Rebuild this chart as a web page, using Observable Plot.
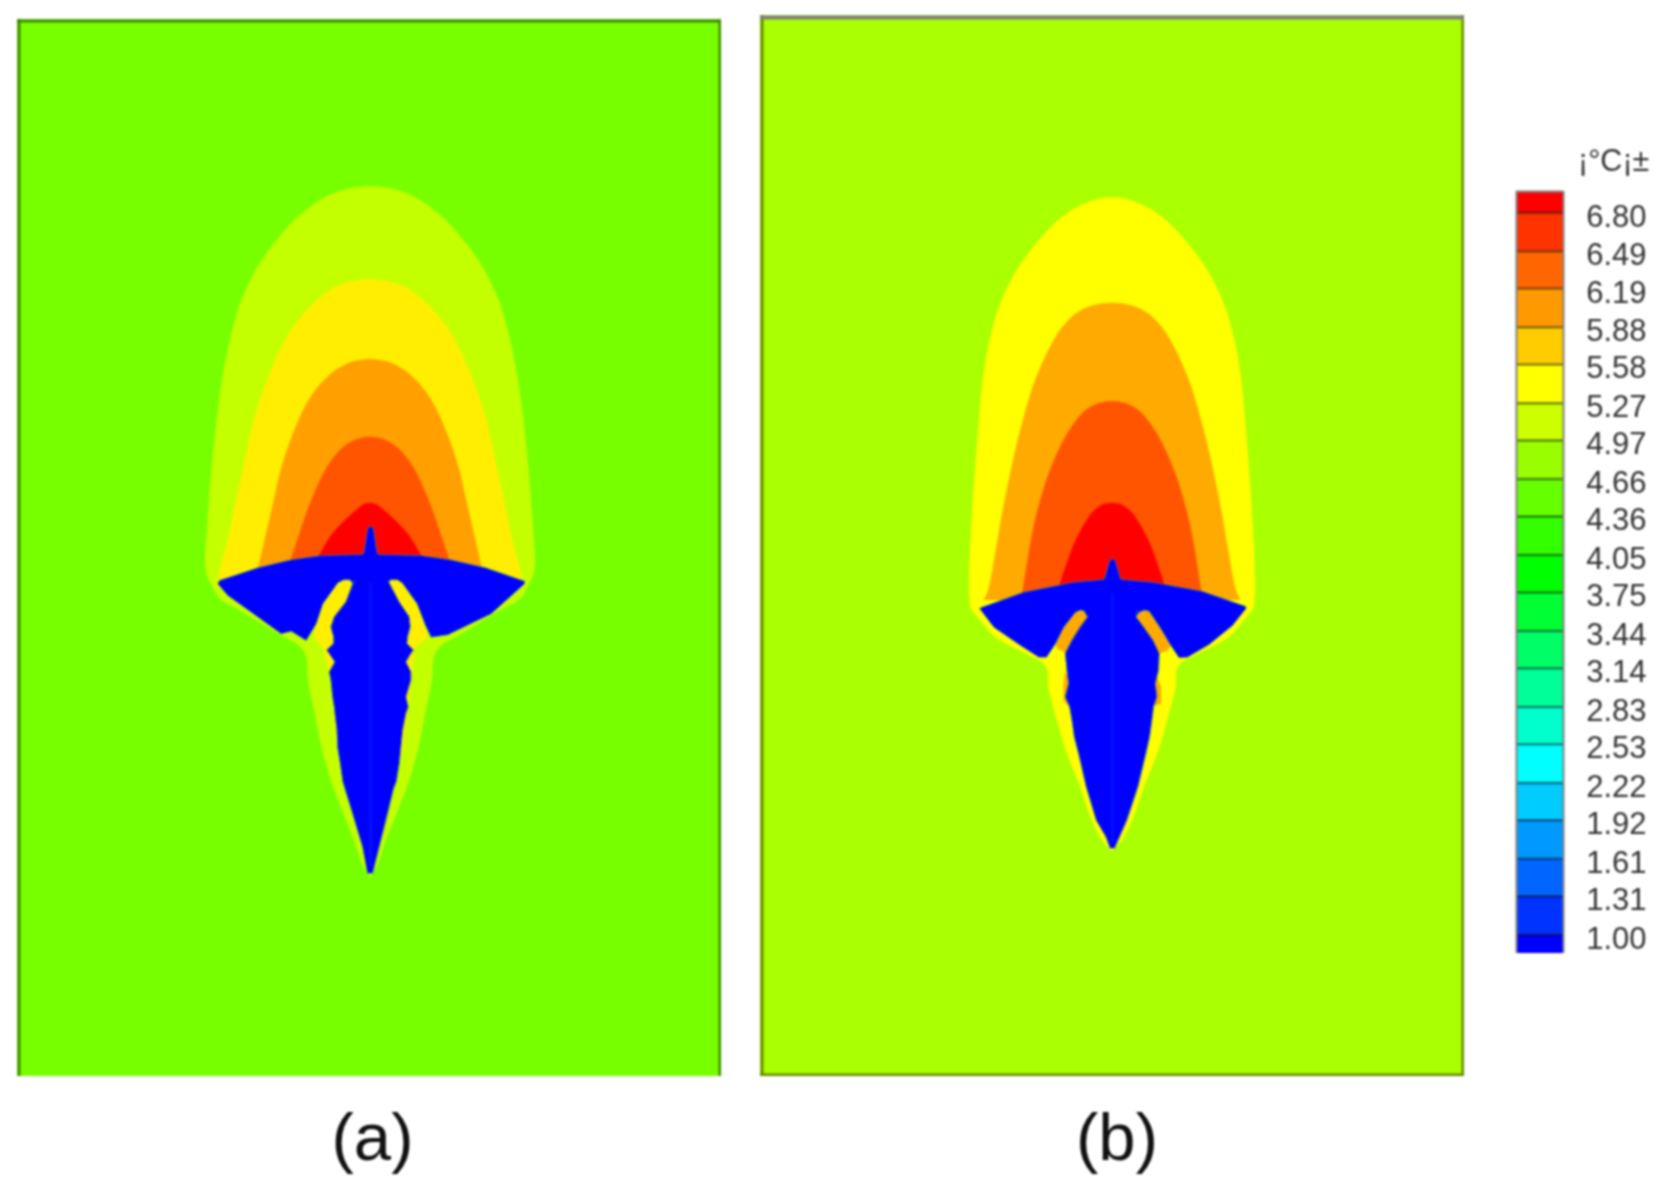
<!DOCTYPE html>
<html><head><meta charset="utf-8">
<script src="https://cdn.jsdelivr.net/npm/d3@7"></script>
<script src="https://cdn.jsdelivr.net/npm/@observablehq/plot@0.6"></script>
<style>
html,body{margin:0;padding:0;background:#fff}
#fig{position:relative;width:1673px;height:1190px;overflow:hidden;font-family:"Liberation Sans",Arial,sans-serif;filter:blur(.8px)}
#fig>svg,#fig>div{position:absolute}
.cap{font-size:67px;color:#111;line-height:1;transform:translateX(-50%)}
#unit{font-size:30.5px;color:#333;line-height:1}
</style></head><body><div id="fig"></div>
<script>
// ---- colour key
const levels=[6.80,6.49,6.19,5.88,5.58,5.27,4.97,4.66,4.36,4.05,3.75,3.44,3.14,2.83,2.53,2.22,1.92,1.61,1.31,1.00];
const keyColors=["#ff0000","#ff3300","#ff6600","#ff9900","#ffcc00","#ffff00","#ccff00","#99ff00","#66ff00","#33ff00","#00ff00","#00ff33","#00ff66","#00ff99","#00ffcc","#00ffff","#00ccff","#0099ff","#0066ff","#0033ff","#0000ff"];
const keyEdges=[6.97,...levels,0.85];

// ---- panel (a): depth along plume, half-width of each temperature band
const aOuterY=[48,51,60,78,100,148,200,248,300,348,400,450,500,600,700,800,900,1000,1100,1170,1215,1250,1285,1320,1360,1395,1420,1445,1470,1530,1630,1730,1830,1930,2030,2090,2120];
const aOuterW=[0,38,82,128,165,225,272,310,343,367,390,405,418,439,454,466,476,484,491,495,490,472,452,392,326,268,222,198,190,186,166,146,118,80,41,20,0];
const aYellowY=[327,329,340,357,400,450,500,600,700,800,900,1000,1100,1215,1250];
const aYellowW=[0,30,78,116,170,215,250,297,334,361,382,404,425,455,462];
const aOrangeY=[567,569,572,582,607,650,700,800,900,1000,1100,1190,1230];
const aOrangeW=[0,24,42,72,112,156,190,235,268,291,314,335,345];
const aHotY=[800,803,812,830,860,900,1000,1100,1160,1200];
const aHotW=[0,26,52,80,108,135,180,215,235,248];
const aRedY=[998,1002,1020,1060,1100,1150,1180];
const aRedW=[0,18,42,85,120,150,168];
const aWingX=[0,-8,-14,-20,-24,-148,-238,-338,-453,-458,-428,-358,-268,-238,-193,-163,-143,-98,-80,-62,-52,52,60,80,95,140,165,182,232,362,462,462,345,240,150,24,20,14,8,0];
const aWingY=[1068,1072,1110,1148,1152,1155,1168,1192,1230,1240,1275,1325,1390,1382,1410,1360,1300,1237,1228,1228,1240,1240,1228,1228,1237,1300,1365,1400,1393,1330,1240,1232,1192,1168,1155,1152,1148,1110,1072,1068];
const aBodyY=[1230,1242,1295,1340,1370,1400,1420,1440,1450,1475,1505,1530,1580,1610,1630,1680,1730,1780,1835,1855,1930,2030,2110];
const aBodyL=[-48,-53,-73,-108,-118,-110,-110,-130,-123,-106,-123,-118,-113,-108,-106,-100,-98,-90,-82,-76,-53,-23,-8];
const aBodyR=[52,59,87,117,120,112,110,130,122,107,122,122,107,114,107,97,92,87,78,70,52,27,7];
const aArmLX=[-62,-80,-98,-143,-163,-170,-143,-130,-120,-110,-101,-91,-60,-60];
const aArmLY=[1228,1228,1237,1300,1360,1400,1430,1480,1530,1630,1730,1760,1760,1228];
const aArmRX=[60,80,95,140,165,172,134,127,124,112,98,90,60,60];
const aArmRY=[1228,1228,1237,1300,1365,1400,1430,1480,1530,1630,1730,1760,1760,1228];

// ---- panel (b)
const bOuterY=[52,54,60,72,100,150,200,250,300,350,400,450,500,600,700,800,900,1000,1100,1200,1250,1285,1320,1370,1420,1450,1470,1520,1620,1720,1820,1920,1980,2015];
const bOuterW=[0,28,54,86,136,192,236,273,303,327,346,360,372,388,398,406,414,420,426,429,428,424,396,351,261,206,194,191,166,136,96,61,31,0];
const bOrangeY=[368,370,376,385,400,425,450,500,600,700,800,900,1000,1100,1230,1260];
const bOrangeW=[0,28,56,82,108,136,156,186,231,262,288,310,330,347,372,385];
const bHotY=[663,665,670,680,700,750,800,850,900,1000,1100,1230,1260];
const bHotW=[0,22,42,64,90,128,156,178,197,226,247,268,274];
const bRedY=[968,970,975,985,1000,1050,1100,1150,1200,1240];
const bRedW=[0,18,32,46,62,94,118,136,153,165];
const bWingX=[0,-8,-14,-24,-26,-116,-266,-396,-398,-356,-276,-221,-198,-171,-146,-111,-96,-81,-76,74,80,95,110,145,175,200,225,290,360,400,400,268,120,26,24,14,8,0];
const bWingY=[1135,1140,1160,1195,1197,1205,1235,1282,1285,1340,1395,1430,1430,1390,1340,1295,1289,1292,1305,1305,1295,1289,1292,1345,1395,1432,1430,1392,1335,1285,1278,1232,1205,1197,1195,1160,1140,1135];
const bBodyY=[1290,1310,1340,1380,1420,1470,1510,1550,1580,1620,1670,1720,1820,1920,1970,2005];
const bBodyL=[-86,-74,-96,-121,-141,-136,-131,-141,-128,-121,-114,-101,-78,-48,-19,-6];
const bBodyR=[74,72,94,122,141,139,129,134,124,119,112,101,77,44,22,7];
const bArmLX=[-111,-81,-70,-100,-136,-166,-171,-146,-111];
const bArmLY=[1292,1292,1305,1360,1420,1405,1390,1340,1292];
const bArmRX=[85,110,145,175,165,140,100,72,85];
const bArmRY=[1290,1292,1345,1395,1410,1420,1360,1305,1290];
const bSlitLX=[-142,-147,-147,-135,-125];
const bSlitLY=[1470,1510,1560,1575,1510];
const bSlitRX=[130,146,146,128,122];
const bSlitRY=[1480,1520,1570,1575,1520];

const zip=(o)=>{const k=Object.keys(o);return o[k[0]].map((_,i)=>Object.fromEntries(k.map(n=>[n,o[n][i]])));};
const band=(ys,ws,fill)=>Plot.areaX(zip({y:ys,w:ws}),{y:"y",x1:d=>-d.w,x2:"w",fill,curve:"catmull-rom"});
const poly=(xs,ys,fill,extra={})=>Plot.line(zip({x:xs,y:ys}),{x:"x",y:"y",fill,stroke:"none",...extra});
const BLUE="#0000ff",EDGE="#2f8f88";
const body=(ys,ls,rs,tip)=>[
  Plot.areaX(zip({y:ys,l:ls,r:rs}),{y:"y",x1:"l",x2:"r",fill:BLUE}),
  Plot.lineY(zip({y:ys,x:ls}),{x:"x",y:"y",stroke:EDGE,strokeWidth:1,strokeOpacity:.7}),
  Plot.lineY(zip({y:ys,x:rs}),{x:"x",y:"y",stroke:EDGE,strokeWidth:1,strokeOpacity:.7}),
  Plot.ruleX([0],{y1:1240,y2:tip,stroke:"#0a33ff",strokeWidth:3,strokeOpacity:.3})
];
const frame=(xd,yd,bg,borders)=>[
  Plot.rect([0],{x1:xd[0],x2:xd[1],y1:yd[0],y2:yd[1],fill:bg}),
  ...borders.map(b=>b.side==="x"
    ? Plot.ruleX([b.at],{y1:yd[0],y2:yd[1],stroke:b.color,strokeWidth:3})
    : Plot.ruleY([b.at],{x1:xd[0],x2:xd[1],stroke:b.color,strokeWidth:b.w||3}))
];
const panel=(left,top,w,h,xd,yd,marks)=>{
  const s=Plot.plot({width:w,height:h,margin:0,x:{domain:xd,range:[0,w],axis:null},y:{domain:[yd[1],yd[0]],range:[h,0],axis:null},marks});
  s.style.left=left+"px";s.style.top=top+"px";s.style.background="transparent";s.style.maxWidth="none";
  document.getElementById("fig").appendChild(s);
};

// panel a
const ax=[-1059,1053],ay=[-453,2718];
panel(17,19,704,1057,ax,ay,[
  ...frame(ax,ay,"#77ff00",[]),
  band(aOuterY,aOuterW,"#c4ff00"),
  band(aYellowY,aYellowW,"#ffee00"),
  band(aOrangeY,aOrangeW,"#ff9f00"),
  band(aHotY,aHotW,"#ff5500"),
  band(aRedY,aRedW,"#ff0000"),
  poly(aArmLX,aArmLY,"#ffee00"),
  poly(aArmRX,aArmRY,"#ffee00"),
  poly(aWingX,aWingY,BLUE,{stroke:EDGE,strokeWidth:1,strokeOpacity:.7}),
  ...body(aBodyY,aBodyL,aBodyR,2090),
  ...frame(ax,ay,"none",[{side:"x",at:ax[0]+4.5,color:"#3f8a00"},{side:"x",at:ax[1]-4.5,color:"#3f8a00"},{side:"y",at:ay[0]+4.5,color:"#3f8a00"}])
]);

// panel b
const bx=[-1056,1056],by=[-495,2688];
panel(760,15,704,1061,bx,by,[
  ...frame(bx,by,"#aaff00",[]),
  band(bOuterY,bOuterW,"#ffff00"),
  band(bOrangeY,bOrangeW,"#ffaa00"),
  band(bHotY,bHotW,"#ff5500"),
  band(bRedY,bRedW,"#ff0000"),
  poly(bArmLX,bArmLY,"#ffaa00"),
  poly(bArmRX,bArmRY,"#ffaa00"),
  poly(bSlitLX,bSlitLY,"#ffaa00"),
  poly(bSlitRX,bSlitRY,"#ffaa00"),
  poly(bWingX,bWingY,BLUE,{stroke:EDGE,strokeWidth:1,strokeOpacity:.7}),
  ...body(bBodyY,bBodyL,bBodyR,1990),
  ...frame(bx,by,"none",[{side:"x",at:bx[0]+4.5,color:"#668a00"},{side:"x",at:bx[1]-4.5,color:"#668a00"},{side:"y",at:by[1]-4.5,color:"#668a00"},{side:"y",at:by[0]+6,color:"#808080",w:4}])
]);

// colour key
const cells=keyColors.map((c,i)=>({c,hi:keyEdges[i],lo:keyEdges[i+1]}));
const key=Plot.plot({width:183,height:800,marginLeft:26,marginRight:110,marginTop:0,marginBottom:0,
  x:{domain:[0,1],axis:null},
  y:{domain:[0.85,6.97],range:[773,11],axis:null},
  marks:[
    Plot.rect(cells,{x1:0,x2:1,y1:"lo",y2:"hi",fill:"c"}),
    Plot.ruleY(levels,{x1:0,x2:1,stroke:"#000",strokeOpacity:.45,strokeWidth:2.5}),
    Plot.ruleX([0,1],{y1:0.85,y2:6.97,stroke:"#808080",strokeWidth:2}),
    Plot.ruleY([6.97],{x1:0,x2:1,stroke:"#808080",strokeWidth:2}),
    Plot.axisY(levels,{anchor:"right",tickSize:0,tickFormat:".2f",label:null,textAnchor:"end",dx:74,dy:4,fontSize:31,fontFamily:"Liberation Sans",fill:"#333"})
  ]});
key.style.left="1490px";key.style.top="180px";key.style.background="transparent";key.style.maxWidth="none";
document.getElementById("fig").appendChild(key);

// text around the figure
const add=(id,cls,txt,l,t)=>{const d=document.createElement("div");d.id=id;d.className=cls;d.textContent=txt;d.style.left=l+"px";d.style.top=t+"px";document.getElementById("fig").appendChild(d);};
add("capa","cap","(a)",372.5,1103);
add("capb","cap","(b)",1117,1103);
add("unit","","¡°C¡±",1578,145);
</script></body></html>
